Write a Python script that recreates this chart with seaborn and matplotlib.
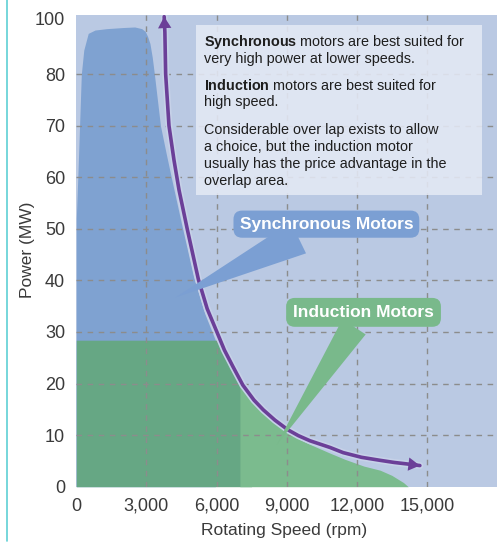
import numpy as np
import matplotlib
matplotlib.use("Agg")
import matplotlib.pyplot as plt
import seaborn as sns
from matplotlib.lines import Line2D
from matplotlib.patches import Rectangle

# DATA
sync_rpm = [0, 65, 215, 320, 510, 800, 1300, 2000, 2500, 2800, 2950, 3050, 3150, 3250, 3340,
            3600, 3850, 4110, 4500, 5000, 5500, 5950]
sync_mw = [52, 60, 80, 88.6, 94.6, 95.8, 96.3, 96.7, 96.9, 96.3, 95.3, 93.5, 91, 86, 80,
           70, 64.5, 59, 51, 41, 33.5, 28.4]

ind_rpm = [0, 6000, 6300, 6600, 7000, 7500, 8000, 8500, 9000, 9500, 10000, 10860, 11500,
           12300, 13000, 13500, 14000, 14200]
ind_mw = [28.4, 28.4, 26.0, 23.3, 20.2, 17.2, 14.4, 12.3, 10.6, 9.3, 8.2, 6.5, 5.3,
          4.0, 3.2, 2.2, 0.8, 0]
sync_only_limit = 7000  # dark green (both types) up to here, light green beyond

limit_rpm = [3760, 3790, 3823, 3965, 4180, 4396, 4754, 5228, 5600, 5978, 6336, 6700, 7125,
             7600, 8000, 8500, 9064, 9500, 10000, 10860, 11420, 12200, 13016, 13600, 14170, 14700]
limit_mw = [100.6, 95, 80, 70, 63.3, 57.5, 49.8, 40.1, 34.5, 30.4, 26.5, 23.3, 19.7,
            16.8, 14.9, 12.9, 11.0, 9.9, 8.9, 7.6, 6.6, 5.7, 5.1, 4.7, 4.4, 4.1]

x_ticks = [0, 3000, 6000, 9000, 12000, 15000]
x_labels = ["0", "3,000", "6,000", "9,000", "12,000", "15,000"]
y_ticks = [0, 10, 20, 30, 40, 50, 60, 70, 80, 100]

note_lines = [
    r"$\mathbf{Synchronous}$ motors are best suited for",
    "very high power at lower speeds.",
    r"$\mathbf{Induction}$ motors are best suited for",
    "high speed.",
    "Considerable over lap exists to allow",
    "a choice, but the induction motor",
    "usually has the price advantage in the",
    "overlap area.",
]

# colours
BG = "#bac9e3"
BLUE = "#7fa2d1"
DGREEN = "#66a784"
LGREEN = "#7bbb8e"
PURPLE = "#6b3f98"
GRID = "#8c8c8c"
TXT = "#3a3a3a"

sns.set_theme(style="white")
plt.rcParams["font.family"] = ["Liberation Sans", "DejaVu Sans"]
plt.rcParams["mathtext.fontset"] = "custom"
plt.rcParams["mathtext.rm"] = "Liberation Sans"
plt.rcParams["mathtext.bf"] = "Liberation Sans:bold"


def fwd(y):
    y = np.asarray(y, dtype=float)
    return np.where(y <= 80, y, 80 + (y - 80) * 0.54)


def inv(v):
    v = np.asarray(v, dtype=float)
    return np.where(v <= 80, v, 80 + (v - 80) / 0.54)


fig = plt.figure(figsize=(4.97, 5.43), dpi=100)
ax = fig.add_axes([76.3 / 497, 56.3 / 543, 420.7 / 497, 471.7 / 543])
ax.set_facecolor(BG)
ax.set_yscale("function", functions=(fwd, inv))

# areas
ax.fill_between(sync_rpm, 0, sync_mw, color=BLUE, lw=0, zorder=1)
ind_rpm_a = np.array(ind_rpm)
ind_mw_a = np.array(ind_mw)
ax.fill_between(ind_rpm_a, 0, ind_mw_a, where=ind_rpm_a <= sync_only_limit,
                interpolate=True, color=DGREEN, lw=0, zorder=1.1)
ax.fill_between(ind_rpm_a, 0, ind_mw_a, where=ind_rpm_a >= sync_only_limit,
                interpolate=True, color=LGREEN, lw=0, zorder=1.1)

# grid
for xv in x_ticks[1:]:
    ax.axvline(xv, color=GRID, lw=1, ls=(0, (4, 4)), zorder=2)
for yv in y_ticks[1:-1]:
    ax.axhline(yv, color=GRID, lw=1, ls=(0, (4, 4)), zorder=2)

# limit curve with arrows at both ends
sns.lineplot(x=limit_rpm, y=limit_mw, sort=False, color="#c6d1e8", lw=5, ax=ax, zorder=3)
sns.lineplot(x=limit_rpm, y=limit_mw, sort=False, color=PURPLE, lw=2.6, ax=ax, zorder=3.1)
head = dict(arrowstyle="-|>,head_length=0.55,head_width=0.32", color=PURPLE, lw=0,
            shrinkA=0, shrinkB=0, mutation_scale=15)
ax.annotate("", xy=(limit_rpm[0], limit_mw[0]), xytext=(limit_rpm[1], limit_mw[1]),
            arrowprops=head, zorder=3.2)
ax.annotate("", xy=(limit_rpm[-1], limit_mw[-1]), xytext=(limit_rpm[-2], limit_mw[-2]),
            arrowprops=head, zorder=3.2)

# note box
ax.add_patch(Rectangle((0.2845, 0.6184), 0.68, 0.3604, transform=ax.transAxes,
                       fc="#e4e9f5", ec="none", alpha=0.88, zorder=4))
line_y = [41.7, 59.3, 85, 102, 130, 147, 164, 181]
for s, py in zip(note_lines, line_y):
    ax.text(0.3036, (486.7 - py) / 471.7, s, transform=ax.transAxes, fontsize=10.4,
            color="#1e1e1e", va="center", ha="left", zorder=5)

# callouts
ax.annotate("Synchronous Motors", xy=(4250, 36.7), xytext=(10700, 50.9),
            fontsize=12.5, fontweight="bold", color="white", ha="center", va="center",
            bbox=dict(boxstyle="round,pad=0.35,rounding_size=0.5", fc="#7b9fd3", ec="none"),
            arrowprops=dict(arrowstyle="wedge,tail_width=2.0,shrink_factor=0.5",
                            fc="#7b9fd3", ec="none", shrinkA=0, shrinkB=0),
            zorder=4.5)
ax.annotate("Induction Motors", xy=(8570, 8.1), xytext=(12290, 33.8),
            fontsize=12.5, fontweight="bold", color="white", ha="center", va="center",
            bbox=dict(boxstyle="round,pad=0.4,rounding_size=0.5", fc="#79b98b", ec="none"),
            arrowprops=dict(arrowstyle="wedge,tail_width=1.6,shrink_factor=0.5",
                            fc="#79b98b", ec="none", shrinkA=0, shrinkB=0),
            zorder=4.5)

# axes
ax.set_xlim(0, 18000)
ax.set_ylim(0, 101.2)
ax.set_xticks(x_ticks)
ax.set_xticklabels(x_labels)
ax.set_yticks(y_ticks)
ax.set_yticklabels([str(v) for v in y_ticks])
ax.tick_params(length=0, pad=8, labelsize=13, colors=TXT)
for sp in ax.spines.values():
    sp.set_visible(False)
ax.set_xlabel("Rotating Speed (rpm)", fontsize=12.5, color=TXT)
ax.set_ylabel("Power (MW)", fontsize=12.5, color=TXT)
ax.xaxis.set_label_coords(0.495, -0.077)
ax.yaxis.set_label_coords(-0.098, 0.502)

# thin teal rule at the left of the figure
fig.add_artist(Line2D([6.7 / 497, 6.7 / 497], [0.003, 1], color="#5fcfd4", lw=1.2))

fig.savefig("out.png", dpi=100)
